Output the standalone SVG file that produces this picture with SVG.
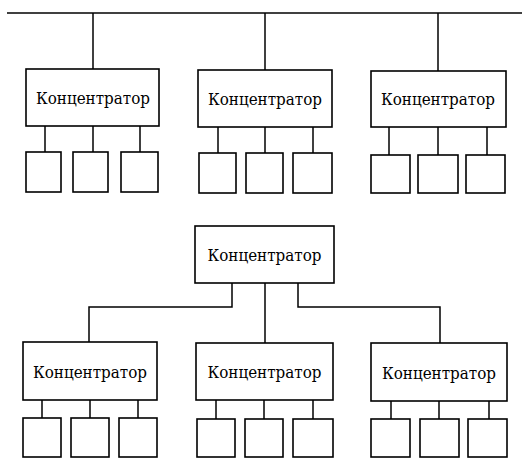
<svg xmlns="http://www.w3.org/2000/svg" width="522" height="458" viewBox="0 0 522 458">
<style>
rect{fill:#fff;stroke:#000;stroke-width:1.6}
.c line,.c polyline{fill:none;stroke:#000;stroke-width:1.5}
.t{font-family:'DejaVu Serif','Liberation Serif',serif;font-size:17.5px;fill:#000;text-anchor:middle}
</style>
<rect width="522" height="458" style="stroke:none"/>
<g class="c" id="connectors">
<line x1="7" y1="13" x2="522" y2="13"/>
<line x1="93" y1="13" x2="93" y2="69"/>
<line x1="265" y1="13" x2="265" y2="70"/>
<line x1="438" y1="13" x2="438" y2="71"/>
<line x1="45" y1="126" x2="45" y2="152"/>
<line x1="93" y1="126" x2="93" y2="152"/>
<line x1="140" y1="126" x2="140" y2="152"/>
<line x1="218" y1="127" x2="218" y2="153"/>
<line x1="265" y1="127" x2="265" y2="153"/>
<line x1="313" y1="127" x2="313" y2="153"/>
<line x1="389" y1="127" x2="389" y2="155"/>
<line x1="438" y1="127" x2="438" y2="155"/>
<line x1="487" y1="127" x2="487" y2="155"/>
<polyline points="232,283 232,307 89,307 89,342"/>
<line x1="265" y1="283" x2="265" y2="343"/>
<polyline points="298,283 298,307 440,307 440,343"/>
<line x1="42" y1="400" x2="42" y2="418"/>
<line x1="90" y1="400" x2="90" y2="418"/>
<line x1="138" y1="400" x2="138" y2="418"/>
<line x1="216" y1="400" x2="216" y2="419"/>
<line x1="264" y1="400" x2="264" y2="419"/>
<line x1="313" y1="400" x2="313" y2="419"/>
<line x1="391" y1="401" x2="391" y2="419"/>
<line x1="439" y1="401" x2="439" y2="419"/>
<line x1="489" y1="401" x2="489" y2="419"/>
</g>
<g id="hub1"><rect x="26" y="69" width="133" height="57"/><text class="t" x="93" y="103.5" textLength="114" lengthAdjust="spacingAndGlyphs">Концентратор</text></g>
<g id="hub2"><rect x="198" y="70" width="134" height="57"/><text class="t" x="265" y="104.5" textLength="114" lengthAdjust="spacingAndGlyphs">Концентратор</text></g>
<g id="hub3"><rect x="371" y="71" width="135" height="56"/><text class="t" x="438" y="104.5" textLength="114" lengthAdjust="spacingAndGlyphs">Концентратор</text></g>
<g id="pc1a"><rect x="26" y="152" width="35" height="40"/></g>
<g id="pc1b"><rect x="73" y="152" width="35" height="40"/></g>
<g id="pc1c"><rect x="121" y="152" width="37" height="40"/></g>
<g id="pc2a"><rect x="199" y="153" width="37" height="40"/></g>
<g id="pc2b"><rect x="246" y="153" width="37" height="40"/></g>
<g id="pc2c"><rect x="293" y="153" width="39" height="40"/></g>
<g id="pc3a"><rect x="371" y="155" width="39" height="38"/></g>
<g id="pc3b"><rect x="418" y="155" width="40" height="38"/></g>
<g id="pc3c"><rect x="466" y="155" width="39" height="38"/></g>
<g id="root"><rect x="195" y="226" width="139" height="57"/><text class="t" x="264.5" y="260.5" textLength="114" lengthAdjust="spacingAndGlyphs">Концентратор</text></g>
<g id="hub4"><rect x="23" y="342" width="134" height="58"/><text class="t" x="90" y="377.5" textLength="114" lengthAdjust="spacingAndGlyphs">Концентратор</text></g>
<g id="hub5"><rect x="196" y="343" width="137" height="57"/><text class="t" x="264.5" y="377.5" textLength="114" lengthAdjust="spacingAndGlyphs">Концентратор</text></g>
<g id="hub6"><rect x="371" y="343" width="136" height="58"/><text class="t" x="439" y="378.5" textLength="114" lengthAdjust="spacingAndGlyphs">Концентратор</text></g>
<g id="pc4a"><rect x="23" y="418" width="38" height="39"/></g>
<g id="pc4b"><rect x="71" y="418" width="38" height="39"/></g>
<g id="pc4c"><rect x="119" y="418" width="38" height="39"/></g>
<g id="pc5a"><rect x="197" y="419" width="38" height="38"/></g>
<g id="pc5b"><rect x="245" y="419" width="38" height="38"/></g>
<g id="pc5c"><rect x="293" y="419" width="40" height="38"/></g>
<g id="pc6a"><rect x="371" y="419" width="39" height="38"/></g>
<g id="pc6b"><rect x="420" y="419" width="39" height="38"/></g>
<g id="pc6c"><rect x="468" y="419" width="39" height="38"/></g>
</svg>
